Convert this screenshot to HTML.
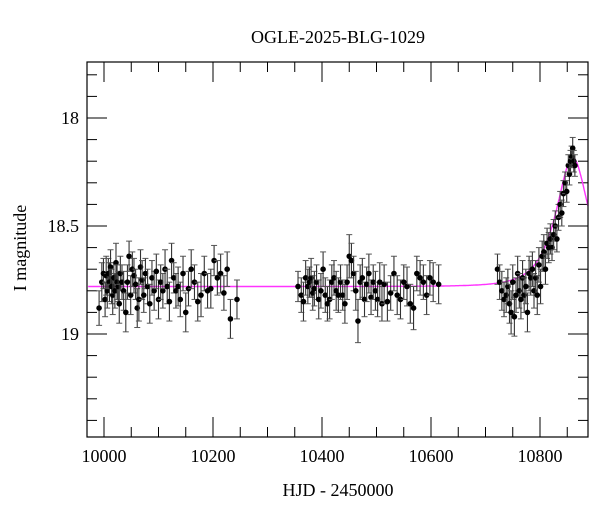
<!DOCTYPE html>
<html><head><meta charset="utf-8"><style>
body{margin:0;background:#fff}
svg{display:block;font-family:"Liberation Serif",serif}
</style></head><body>
<svg id="chart" width="600" height="512">
<text x="338" y="43" text-anchor="middle" font-size="18">OGLE-2025-BLG-1029</text>
<text x="338" y="496" text-anchor="middle" font-size="18">HJD - 2450000</text>
<text transform="translate(26,248) rotate(-90)" text-anchor="middle" font-size="18">I magnitude</text>
<g id="ticks"></g>
<g id="model"></g>
<g id="pts"></g>
<rect x="87" y="62" width="501" height="375" fill="none" stroke="#000" stroke-width="1.2"/>
</svg>
<script>
const xTickLabels=[10000,10200,10400,10600,10800];
const yTickLabels=[18,18.5,19];
const t1=[9991,9996,9999,10002,10004,10006,10008,10010,10012,10014,10016,10018,10020,10022,10024,10026,10028,10030,10033,10036,10040,10043,10046,10049,10052,10055,10058,10061,10064,10067,10070,10073,10076,10080,10084,10088,10092,10096,10100,10104,10108,10112,10116,10120,10124,10128,10132,10136,10140,10145,10150,10155,10160,10166,10172,10178,10184,10190,10196,10202,10208,10214,10220,10226,10232,10244];
const m1=[18.88,18.76,18.72,18.84,18.73,18.80,18.72,18.76,18.69,18.78,18.82,18.74,18.80,18.67,18.76,18.78,18.86,18.72,18.76,18.80,18.90,18.76,18.64,18.82,18.70,18.73,18.77,18.88,18.84,18.69,18.75,18.82,18.72,18.78,18.86,18.74,18.80,18.71,18.84,18.76,18.80,18.70,18.78,18.85,18.66,18.74,18.80,18.78,18.84,18.72,18.90,18.79,18.70,18.76,18.85,18.82,18.72,18.80,18.79,18.66,18.74,18.72,18.81,18.70,18.93,18.84];
const e1=[0.08,0.09,0.07,0.08,0.09,0.08,0.07,0.09,0.08,0.08,0.09,0.07,0.08,0.09,0.08,0.07,0.09,0.08,0.08,0.09,0.09,0.08,0.07,0.09,0.08,0.08,0.07,0.09,0.1,0.08,0.09,0.08,0.07,0.08,0.09,0.08,0.09,0.08,0.09,0.08,0.08,0.09,0.08,0.09,0.08,0.07,0.08,0.09,0.08,0.08,0.09,0.08,0.09,0.08,0.09,0.1,0.08,0.08,0.09,0.07,0.08,0.09,0.08,0.08,0.09,0.09];
const t2=[10356,10362,10366,10370,10374,10377,10380,10383,10386,10390,10394,10398,10402,10406,10410,10414,10418,10422,10426,10430,10434,10438,10442,10446,10450,10454,10458,10462,10466,10470,10474,10478,10482,10486,10490,10494,10498,10502,10506,10510,10514,10520,10526,10532,10538,10544,10550,10556,10562,10568,10574,10580,10586,10592,10598,10604,10614];
const m2=[18.78,18.82,18.85,18.74,18.78,18.76,18.74,18.81,18.79,18.76,18.84,18.80,18.70,18.82,18.86,18.84,18.76,18.74,18.80,18.82,18.76,18.82,18.86,18.76,18.64,18.66,18.72,18.80,18.94,18.76,18.74,18.84,18.77,18.72,18.83,18.76,18.80,18.84,18.76,18.86,18.77,18.85,18.81,18.72,18.82,18.84,18.76,18.78,18.86,18.88,18.72,18.74,18.76,18.82,18.74,18.76,18.77];
const e2=[0.07,0.08,0.09,0.08,0.08,0.07,0.09,0.08,0.08,0.08,0.09,0.08,0.08,0.08,0.08,0.09,0.08,0.08,0.09,0.08,0.08,0.07,0.09,0.08,0.1,0.08,0.08,0.09,0.1,0.08,0.09,0.08,0.08,0.09,0.08,0.08,0.09,0.08,0.09,0.08,0.09,0.09,0.08,0.08,0.09,0.09,0.08,0.09,0.09,0.1,0.08,0.08,0.08,0.09,0.08,0.09,0.09];
const t3=[10722,10726,10730,10734,10738,10741,10744,10747,10750,10753,10756,10759,10762,10765,10768,10771,10774,10777,10780,10783,10786,10789,10792,10795,10798,10801,10804,10807,10810,10813,10816,10819,10822,10825,10828,10831,10834,10837,10840,10843,10846,10849,10852,10854,10856,10858,10860,10862,10864];
const m3=[18.70,18.76,18.80,18.84,18.82,18.78,18.86,18.90,18.76,18.92,18.82,18.72,18.80,18.84,18.74,18.82,18.78,18.90,18.72,18.74,18.70,18.80,18.74,18.82,18.68,18.78,18.64,18.62,18.70,18.58,18.60,18.56,18.60,18.54,18.50,18.56,18.46,18.40,18.44,18.35,18.30,18.34,18.22,18.26,18.20,18.18,18.14,18.20,18.22];
const e3=[0.07,0.08,0.09,0.08,0.08,0.08,0.09,0.1,0.08,0.09,0.08,0.08,0.08,0.09,0.08,0.08,0.08,0.09,0.08,0.08,0.08,0.08,0.08,0.09,0.08,0.08,0.07,0.08,0.07,0.07,0.07,0.07,0.06,0.07,0.07,0.06,0.06,0.06,0.06,0.06,0.05,0.05,0.05,0.05,0.05,0.05,0.05,0.05,0.05];
const baseMag=18.78, t0=10860, tE=45, u0=0.67;

const X=t=>104+(t-10000)*0.545;
const Y=m=>118+(m-18)*216;
const NS="http://www.w3.org/2000/svg";
function mk(tag,attrs,parent){const e=document.createElementNS(NS,tag);for(const k in attrs)e.setAttribute(k,attrs[k]);parent.appendChild(e);return e;}
const tk=document.getElementById('ticks');
for(let t=9950;t<=10900;t+=50){const x=X(t);if(x<88||x>587)continue;const maj=t%200===0;
 const a=mk('line',{x1:x,x2:x,y1:437,y2:437-(maj?20:10),stroke:'#000'},tk);
 
 
 const b=mk('line',{x1:x,x2:x,y1:62,y2:62+(maj?20:10),stroke:'#000'},tk);
 
 }
xTickLabels.forEach(v=>{const e=mk('text',{x:X(v),y:462,'text-anchor':'middle','font-size':18},tk);e.textContent=v;
 
 });
for(let i=178;i<=194;i++){const m=i/10;const y=Y(m);if(y<63||y>436)continue;const maj=i%5===0;
 const a=mk('line',{x1:87,x2:87+(maj?20:10),y1:y,y2:y,stroke:'#000'},tk);
 
 
 const b=mk('line',{x1:588,x2:588-(maj?20:10),y1:y,y2:y,stroke:'#000'},tk);
 
 }
yTickLabels.forEach(v=>{const e=mk('text',{x:79,y:Y(v)+6,'text-anchor':'end','font-size':18},tk);e.textContent=v;
 
 });
let d='';for(let t=9971;t<=10888;t+=1){const u=Math.sqrt(u0*u0+((t-t0)/tE)**2);const A=(u*u+2)/(u*Math.sqrt(u*u+4));const m=baseMag-2.5*Math.log10(A);d+=(d?'L':'M')+X(t).toFixed(1)+','+Y(m).toFixed(1);}
const mp=mk('path',{d:d,fill:'none',stroke:'#ff33ff','stroke-width':1.4},document.getElementById('model'));


const pg=document.getElementById('pts');
[[t1,m1,e1],[t2,m2,e2],[t3,m3,e3]].forEach(([ts,ms,es])=>{ts.forEach((t,i)=>{const x=X(t),y=Y(ms[i]),h=es[i]*216;
 const g=mk('g',{},pg);
 
 
 mk('line',{x1:x,x2:x,y1:y-h,y2:y+h,stroke:'#333','stroke-width':1.1},g);
 mk('line',{x1:x-3,x2:x+3,y1:y-h,y2:y-h,stroke:'#555','stroke-width':1},g);
 mk('line',{x1:x-3,x2:x+3,y1:y+h,y2:y+h,stroke:'#555','stroke-width':1},g);
 mk('circle',{cx:x,cy:y,r:2.8,fill:'#000'},g);});});
</script>
</body></html>
